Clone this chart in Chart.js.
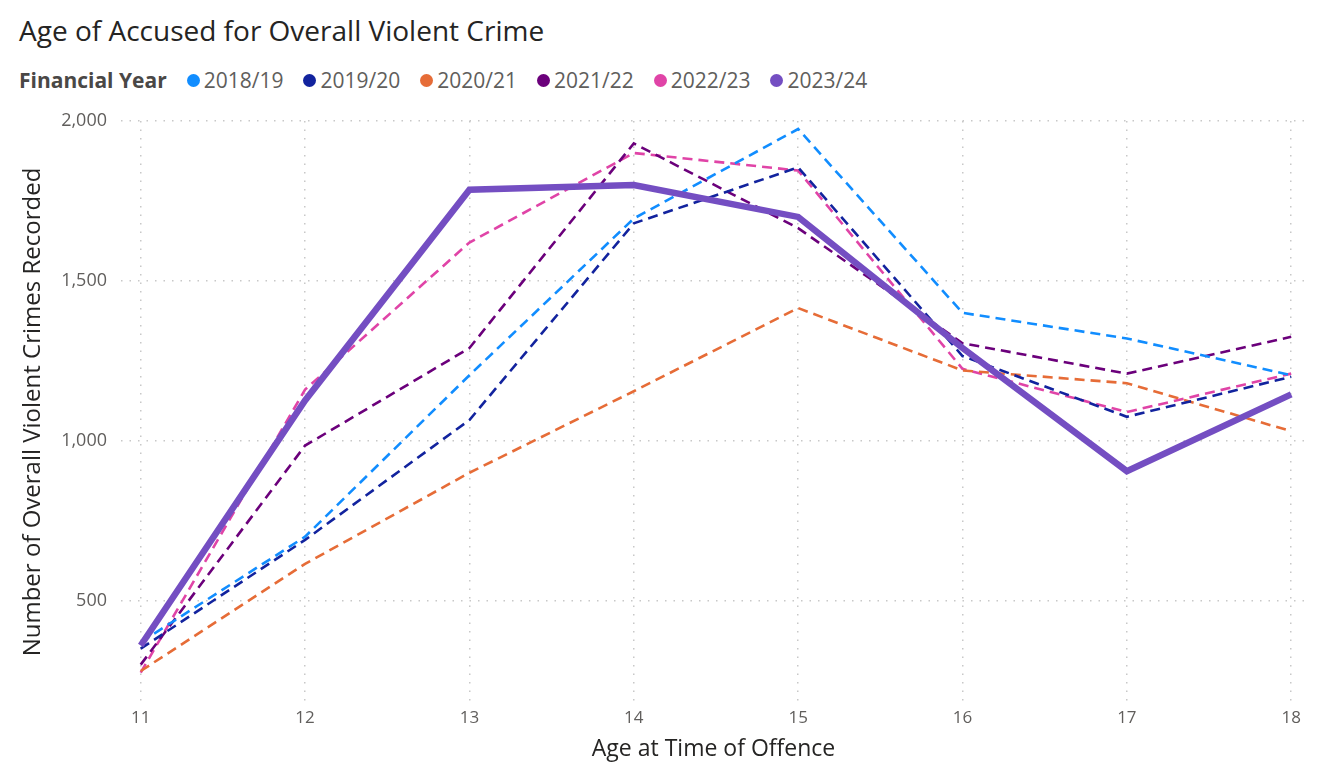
<!DOCTYPE html>
<html>
<head>
<meta charset="utf-8">
<script src="https://cdn.jsdelivr.net/npm/chart.js@4.4.1/dist/chart.umd.min.js"></script>
<style>
  html, body { margin: 0; padding: 0; background: #ffffff; }
  #wrap { position: relative; width: 1324px; height: 776px; overflow: hidden; }
  #title { position: absolute; left: 19px; top: 11px; font-family: "Open Sans", sans-serif; font-size: 28px; color: #252423; white-space: nowrap; }
  #legend { position: absolute; left: 19px; top: 66px; display: flex; align-items: center; font-family: "Open Sans", sans-serif; font-size: 21px; color: #605E5C; white-space: nowrap; }
  #legend .lt { font-weight: bold; margin-right: 20px; color: #4a4846; }
  #legend .it { display: flex; align-items: center; margin-right: 20px; }
  #legend .dot { width: 13px; height: 13px; border-radius: 50%; margin-right: 4px; }
  canvas { position: absolute; left: 0; top: 0; }
</style>
</head>
<body>
<div id="wrap">
  <div id="title">Age of Accused for Overall Violent Crime</div>
  <div id="legend"></div>
  <canvas id="c" width="1324" height="776"></canvas>
</div>
<script>
const ages = [11, 12, 13, 14, 15, 16, 17, 18];
const seriesNames = ["2018/19", "2019/20", "2020/21", "2021/22", "2022/23", "2023/24"];
const fy2018 = [370, 700, 1205, 1695, 1975, 1400, 1320, 1205];
const fy2019 = [350, 690, 1065, 1680, 1855, 1265, 1075, 1200];
const fy2020 = [280, 615, 900, 1155, 1415, 1220, 1180, 1030];
const fy2021 = [300, 985, 1290, 1930, 1665, 1305, 1210, 1325];
const fy2022 = [275, 1160, 1620, 1900, 1845, 1225, 1090, 1210];
const fy2023 = [360, 1126, 1785, 1800, 1700, 1290, 905, 1145];
const yTicks = [500, 1000, 1500, 2000];

const seriesValues = [fy2018, fy2019, fy2020, fy2021, fy2022, fy2023];
const colors = ["#118DFF", "#12239E", "#E66C37", "#6B007B", "#E044A7", "#744EC2"];

// HTML legend
const lg = document.getElementById('legend');
const lt = document.createElement('span'); lt.className = 'lt'; lt.textContent = 'Financial Year'; lg.appendChild(lt);
seriesNames.forEach((n, i) => {
  const it = document.createElement('span'); it.className = 'it';
  const d = document.createElement('span'); d.className = 'dot'; d.style.background = colors[i];
  const t = document.createElement('span'); t.textContent = n;
  it.appendChild(d); it.appendChild(t); lg.appendChild(it);
});

const datasets = seriesNames.map((n, i) => {
  const last = i === seriesNames.length - 1;
  return {
    label: n,
    data: ages.map((a, k) => ({ x: a, y: seriesValues[i][k] })),
    borderColor: colors[i],
    backgroundColor: colors[i],
    borderWidth: last ? 6.5 : 2.6,
    borderDash: last ? [] : [10, 6],
    pointRadius: 0,
    pointHoverRadius: 0,
    tension: 0,
    fill: false,
    order: last ? 0 : 1
  };
});

const gridColor = '#C8C8C8';
new Chart(document.getElementById('c'), {
  type: 'line',
  data: { datasets },
  options: {
    responsive: false,
    animation: false,
    events: [],
    layout: { padding: { top: 121, right: 18, bottom: 0, left: 0 } },
    plugins: { legend: { display: false }, tooltip: { enabled: false }, title: { display: false } },
    scales: {
      x: {
        type: 'linear',
        min: 10.88,
        max: 18.09,
        afterBuildTicks: (s) => { s.ticks = ages.map(v => ({ value: v })); },
        afterFit: (s) => { s.height = 73; },
        grid: { color: gridColor, lineWidth: 1.5, drawTicks: false },
        border: { display: false, dash: [1.5, 7] },
        ticks: { color: '#605E5C', font: { family: 'Open Sans', size: 17 }, padding: 5, callback: (v) => String(v) },
        title: { display: true, text: 'Age at Time of Offence', color: '#252423', font: { family: 'Open Sans', size: 23 }, padding: { top: 0, bottom: 13 } }
      },
      y: {
        min: 180,
        max: 2000,
        afterBuildTicks: (s) => { s.ticks = yTicks.map(v => ({ value: v })); },
        afterFit: (s) => { s.width = 121; },
        grid: { color: gridColor, lineWidth: 1.5, drawTicks: false },
        border: { display: false, dash: [1.5, 7] },
        ticks: { color: '#605E5C', font: { family: 'Open Sans', size: 18 }, padding: 14, callback: (v) => v.toLocaleString('en-US') },
        title: { display: true, text: 'Number of Overall Violent Crimes Recorded', color: '#252423', font: { family: 'Open Sans', size: 24 }, padding: { top: 19, bottom: 0 } }
      }
    }
  }
});
</script>
</body>
</html>
